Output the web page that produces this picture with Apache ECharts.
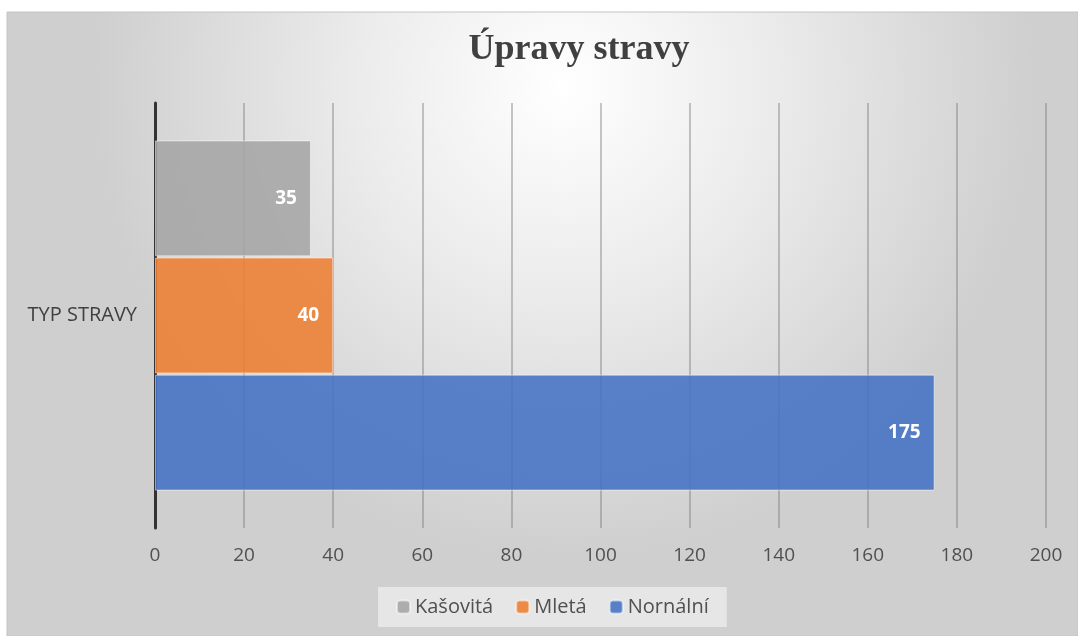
<!DOCTYPE html>
<html>
<head>
<meta charset="utf-8">
<script src="https://cdn.jsdelivr.net/npm/echarts@6/dist/echarts.min.js"></script>
<style>
  html, body { margin: 0; padding: 0; background: #fff; }
  #chart { width: 1078px; height: 636px; }
</style>
</head>
<body>
<div id="chart"></div>
<script>
let categories = ["TYP STRAVY"];
let seriesNames = ["Kašovitá", "Mletá", "Nornální"];
let kasovita = [35];
let mleta = [40];
let normalni = [175];

let myChart = echarts.init(document.getElementById("chart"));
let font = "'Open Sans', 'Noto Sans', sans-serif";

function barSeries(name, data, color) {
  return {
    name: name,
    type: "bar",
    data: data,
    barCategoryGap: "17.6%",
    barGap: "1%",
    itemStyle: {
      color: color,
      borderColor: "rgba(255,255,255,0.5)",
      borderWidth: 1,
    },
    label: {
      show: true,
      position: "insideRight",
      distance: 14,
      color: "#fff",
      fontWeight: "bold",
      fontSize: 19,
      fontFamily: font,
    },
  };
}

let option = {
  backgroundColor: "#fff",
  animation: false,
  graphic: [
    {
      type: "rect",
      z: -10,
      silent: true,
      shape: { x: 7, y: 12, width: 1071, height: 624 },
      style: {
        fill: new echarts.graphic.RadialGradient(0.52, 0.12, 0.75, [
          { offset: 0, color: "#ffffff" },
          { offset: 0.45, color: "#ebebeb" },
          { offset: 1, color: "#cfcfcf" },
        ]),
        stroke: "#c4c4c4",
        lineWidth: 1,
      },
    },
  ],
  title: {
    text: "Úpravy stravy",
    left: 574,
    textAlign: "center",
    top: 27,
    textStyle: {
      fontFamily: "'Liberation Serif', serif",
      fontWeight: "bold",
      fontSize: 36,
      color: "#404040",
    },
  },
  legend: {
    data: seriesNames,
    top: 587,
    left: 378,
    itemWidth: 13,
    itemHeight: 13,
    itemGap: 22,
    padding: [10, 18, 10, 18],
    backgroundColor: "rgba(240,240,240,0.7)",
    textStyle: { fontSize: 20, color: "#505050", fontFamily: font },
  },
  grid: { left: 155, right: 32, top: 103, bottom: 108 },
  xAxis: {
    type: "value",
    min: 0,
    max: 200,
    interval: 20,
    axisLine: { show: false },
    axisTick: { show: false },
    axisLabel: { fontSize: 19, color: "#505050", margin: 18, fontFamily: font },
    splitLine: { lineStyle: { color: "rgba(120,120,120,0.55)", width: 1.5 } },
  },
  yAxis: {
    type: "category",
    data: categories,
    axisLine: { lineStyle: { color: "#333", width: 3 } },
    axisTick: { show: false },
    axisLabel: { fontSize: 20, color: "#404040", margin: 18, fontFamily: font },
  },
  series: [
    barSeries("Kašovitá", kasovita, "rgba(165,165,165,0.88)"),
    barSeries("Mletá", mleta, "rgba(237,125,49,0.88)"),
    barSeries("Nornální", normalni, "rgba(68,114,196,0.88)"),
  ],
};
myChart.setOption(option);
</script>
</body>
</html>
